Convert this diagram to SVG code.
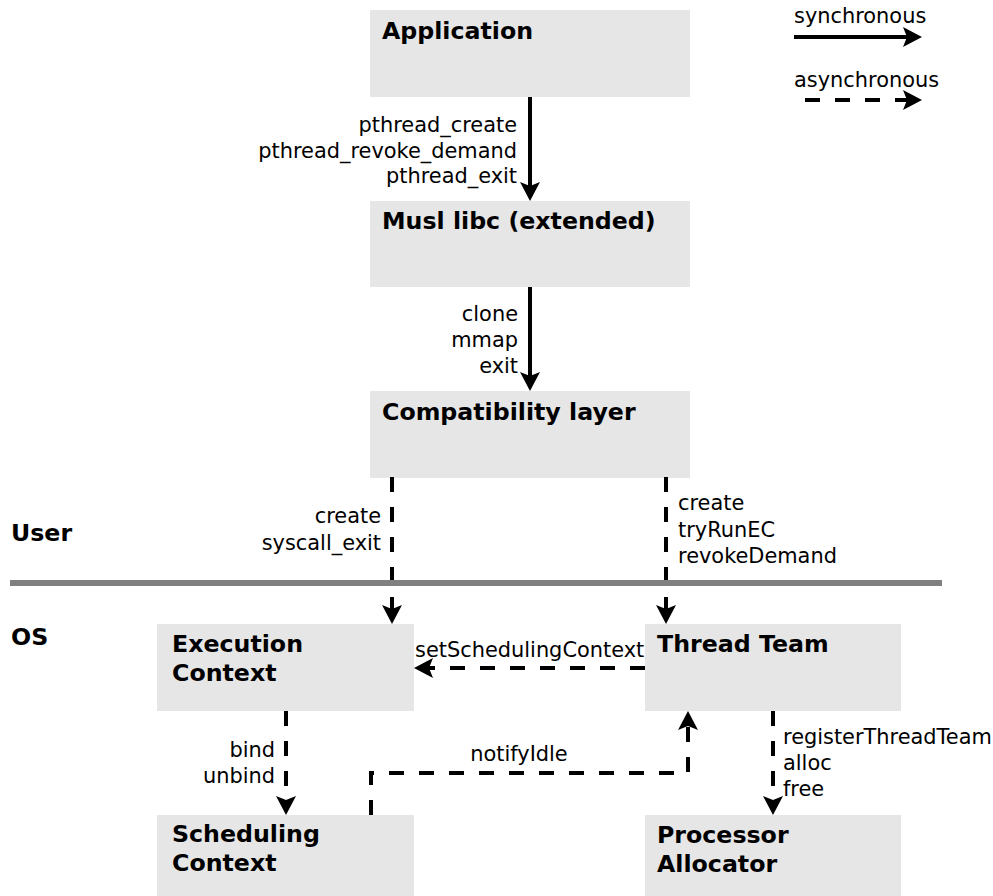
<svg xmlns="http://www.w3.org/2000/svg" width="993" height="896" viewBox="0 0 993 896">
  <style>
    .box { fill: #e6e6e6; }
    .title { font-family: "DejaVu Sans", sans-serif; font-weight: bold; font-size: 23.7px; fill: #000; }
    .lbl { font-family: "DejaVu Sans", sans-serif; font-size: 20.9px; fill: #000; }
    .end { text-anchor: end; }
    .mid { text-anchor: middle; }
    .sync { fill: none; stroke: #000; stroke-width: 4; marker-end: url(#head); }
    .async { fill: none; stroke: #000; stroke-width: 4; stroke-dasharray: 15 15; marker-end: url(#head); }
  </style>
  <defs>
    <marker id="head" viewBox="0 0 19 20" refX="4" refY="10" markerWidth="19" markerHeight="20" markerUnits="userSpaceOnUse" orient="auto">
      <path d="M0,0 L19,10 L0,20 L4,10 Z" fill="#000"/>
    </marker>
  </defs>

  <rect width="993" height="896" fill="#fff"/>

  <!-- legend -->
  <g id="legend">
    <text class="lbl" x="794" y="23">synchronous</text>
    <path class="sync" d="M794,37 H907"/>
    <text class="lbl" x="794" y="87">asynchronous</text>
    <path class="async" d="M805,100 H907"/>
  </g>

  <!-- user / OS boundary -->
  <g id="boundary">
    <text class="title" x="11" y="541">User</text>
    <text class="title" x="11" y="645">OS</text>
  </g>

  <g id="application">
    <rect class="box" x="370" y="10" width="320" height="87"/>
    <text class="title" x="382" y="39">Application</text>
  </g>
  <g id="musl">
    <rect class="box" x="370" y="201" width="320" height="86"/>
    <text class="title" x="382" y="229">Musl libc (extended)</text>
  </g>
  <g id="compat">
    <rect class="box" x="370" y="391" width="320" height="87"/>
    <text class="title" x="382" y="420">Compatibility layer</text>
  </g>
  <g id="execution-context">
    <rect class="box" x="157" y="624" width="257" height="87"/>
    <text class="title" x="172" y="652">Execution</text>
    <text class="title" x="172" y="681">Context</text>
  </g>
  <g id="thread-team">
    <rect class="box" x="645" y="624" width="256" height="87"/>
    <text class="title" x="657" y="652">Thread Team</text>
  </g>
  <g id="scheduling-context">
    <rect class="box" x="157" y="815" width="257" height="81"/>
    <text class="title" x="172" y="842">Scheduling</text>
    <text class="title" x="172" y="871">Context</text>
  </g>
  <g id="processor-allocator">
    <rect class="box" x="645" y="815" width="256" height="81"/>
    <text class="title" x="657" y="843">Processor</text>
    <text class="title" x="657" y="872">Allocator</text>
  </g>

  <g id="connectors">
    <!-- Application -> Musl -->
    <path class="sync" d="M530,97 V186"/>
    <text class="lbl end" x="517" y="132">pthread_create</text>
    <text class="lbl end" x="517" y="158">pthread_revoke_demand</text>
    <text class="lbl end" x="517" y="183">pthread_exit</text>

    <!-- Musl -> Compatibility layer -->
    <path class="sync" d="M530,287 V376"/>
    <text class="lbl end" x="518" y="321">clone</text>
    <text class="lbl end" x="518" y="347">mmap</text>
    <text class="lbl end" x="518" y="373">exit</text>

    <!-- Compatibility layer -> Execution Context -->
    <path class="async" d="M392,477 V609"/>
    <text class="lbl end" x="381" y="523">create</text>
    <text class="lbl end" x="381" y="550">syscall_exit</text>

    <!-- Compatibility layer -> Thread Team -->
    <path class="async" d="M666,477 V609"/>
    <text class="lbl" x="678" y="510">create</text>
    <text class="lbl" x="678" y="537">tryRunEC</text>
    <text class="lbl" x="678" y="563">revokeDemand</text>

    <!-- Thread Team -> Execution Context -->
    <path class="async" d="M645,668 H429"/>
    <text class="lbl" x="415" y="657">setSchedulingContext</text>

    <!-- Execution Context -> Scheduling Context -->
    <path class="async" d="M286,711 V800"/>
    <text class="lbl end" x="275" y="757">bind</text>
    <text class="lbl end" x="275" y="783">unbind</text>

    <!-- Scheduling Context -> Thread Team -->
    <path class="async" d="M371,815 V773 H688 V726"/>
    <text class="lbl mid" x="519" y="761">notifyIdle</text>

    <!-- Thread Team -> Processor Allocator -->
    <path class="async" d="M773,711 V800"/>
    <text class="lbl" x="783" y="744">registerThreadTeam</text>
    <text class="lbl" x="783" y="770">alloc</text>
    <text class="lbl" x="783" y="796">free</text>
  </g>

  <!-- boundary line drawn over the dashed connectors -->
  <line x1="10" y1="583" x2="942" y2="583" stroke="#808080" stroke-width="6"/>
</svg>
